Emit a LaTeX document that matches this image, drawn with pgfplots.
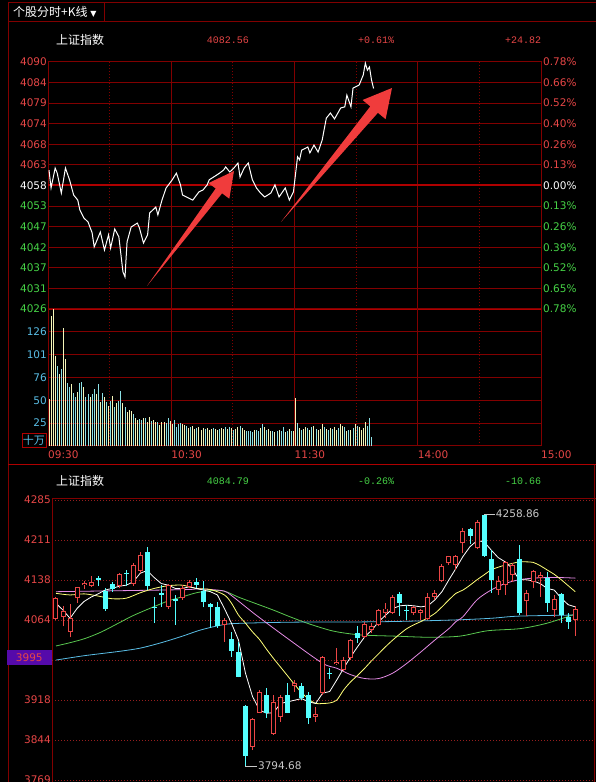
\documentclass[border=0pt]{standalone}
\usepackage{pgfplots}
\pgfplotsset{compat=1.18}
\usepackage{pgfplotstable}
\usepackage{fontspec}
\setmainfont{Liberation Sans}
\setmonofont{Liberation Mono}
\newfontfamily\cjk{Noto Sans CJK SC}
\newfontfamily\dejavu{DejaVu Sans}
\definecolor{gridred}{RGB}{130,0,0}
\definecolor{brightred}{RGB}{175,0,0}
\definecolor{dotred}{RGB}{150,30,30}
\definecolor{labred}{RGB}{230,70,70}
\definecolor{labgreen}{RGB}{70,210,70}
\definecolor{labcyan}{RGB}{90,190,230}
\definecolor{candred}{RGB}{235,70,70}
\definecolor{candcyan}{RGB}{84,255,255}
\definecolor{volyel}{RGB}{245,245,185}
\definecolor{volcyan}{RGB}{140,225,230}
\definecolor{maten}{RGB}{255,255,120}
\definecolor{matwenty}{RGB}{230,140,230}
\definecolor{masixty}{RGB}{90,200,80}
\definecolor{mahund}{RGB}{90,190,230}
\definecolor{arrowred}{RGB}{240,60,60}
\definecolor{boxpurple}{RGB}{85,10,170}
\definecolor{annot}{RGB}{200,200,200}
\newcommand{\tl}{\dejavu\fontsize{10.5}{13}\selectfont}
\newcommand{\R}[1]{\textcolor{labred}{#1}}
\newcommand{\G}[1]{\textcolor{labgreen}{#1}}
\newcommand{\W}[1]{\textcolor{white}{#1}}

\pgfplotstableread{
m p
0 4061.7
1 4057.1
3 4062.2
4 4060.9
6 4055.8
8 4062.2
10 4059.2
12 4055.3
14 4054.0
15 4051.5
17 4049.4
19 4048.4
21 4045.6
22 4042.0
25 4045.8
27 4041.2
29 4045.1
30 4041.7
32 4046.6
34 4044.6
36 4035.6
37 4034.3
38 4043.3
40 4047.1
43 4048.1
44 4046.9
46 4043.0
48 4045.1
49 4050.7
52 4052.2
53 4050.2
55 4054.0
57 4057.1
60 4059.2
62 4060.9
64 4057.9
65 4055.3
68 4054.5
70 4054.0
73 4056.1
75 4056.6
77 4057.9
78 4059.2
81 4060.2
83 4060.9
85 4061.7
86 4062.5
88 4061.2
90 4062.2
92 4063.5
93 4059.9
95 4062.2
97 4063.5
99 4059.2
101 4057.1
103 4055.8
105 4054.8
108 4055.8
110 4057.9
112 4054.8
115 4057.1
117 4054.0
119 4056.1
121 4065.1
122 4064.3
123 4066.8
126 4067.6
127 4066.1
129 4068.1
131 4066.3
133 4069.4
135 4075.0
137 4076.3
139 4074.8
142 4077.6
144 4077.9
145 4080.9
147 4077.9
148 4082.7
151 4083.5
153 4086.1
154 4089.1
155 4087.3
156 4088.1
157 4084.8
158 4082.6
}\price

\pgfplotstableread{
m v
0 52
1 143
2 151
3 99
5 79
7 130
8 96
11 68
14 60
17 65
20 54
23 57
25 49
27 54
29 44
31 55
33 47
36 48
38 37
39 40
40 39
42 31
43 29
46 31
48 27
49 32
51 29
52 27
54 23
55 26
56 27
59 28
60 24
65 24
66 23
68 20
70 22
71 19
73 21
74 18
75 20
77 20
78 18
79 19
81 19
82 18
84 20
85 19
87 19
89 20
91 19
92 21
94 20
95 18
100 18
103 20
105 21
107 19
108 17
110 15
112 18
115 15
117 19
119 17
120 53
122 20
124 19
125 21
127 18
129 22
131 18
132 19
133 24
135 19
137 20
139 21
140 18
142 24
143 22
145 17
147 18
149 24
151 21
152 18
153 20
154 27
}\volY

\pgfplotstableread{
m v
4 88
6 85
9 70
10 65
12 59
13 54
15 70
16 71
18 54
19 57
21 57
22 63
24 68
26 58
28 49
30 50
32 43
34 50
35 61
37 43
41 35
44 30
45 29
47 31
50 28
53 26
57 25
58 31
61 29
62 21
63 24
64 25
67 22
69 21
72 20
76 19
80 20
83 19
86 21
88 21
90 18
93 22
96 16
97 17
98 16
99 15
101 18
102 17
104 24
106 18
109 16
111 16
113 17
114 21
116 17
118 16
121 25
123 18
126 20
128 21
130 19
134 21
136 18
138 19
141 20
144 21
146 18
148 20
150 22
155 22
156 31
157 10
}\volC

% red (rising) candles
\pgfplotstableread{
i o h l c
0 4066 4106 4063 4104
1 4070 4090 4052 4080
2 4042 4094 4032 4067
3 4104 4125 4096 4124
4 4129 4136 4121 4132
5 4127 4144 4125 4134
9 4126 4150 4122 4148
11 4131 4168 4127 4165
12 4155 4190 4150 4184
16 4088 4130 4085 4128
18 4104 4128 4101 4122
19 4125 4138 4122 4134
24 4055 4067 4024 4064
28 3830 3883 3824 3881
29 3893 3935 3892 3932
31 3854 3926 3852 3913
32 3886 3926 3876 3922
34 3942 3954 3932 3948
37 3885 3904 3876 3891
38 3929 3998 3926 3996
40 3983 4012 3980 3986
41 3972 3996 3969 3990
42 3993 4028 3991 4027
44 4032 4061 4030 4057
45 4045 4059 4040 4053
46 4055 4085 4052 4083
47 4076 4095 4067 4085
48 4077 4110 4075 4107
51 4076 4090 4073 4087
52 4076 4085 4064 4082
53 4065 4113 4064 4107
54 4107 4120 4101 4114
55 4136 4167 4133 4163
56 4168 4182 4165 4181
57 4165 4184 4156 4182
58 4205 4233 4188 4228
60 4196 4248 4194 4245
63 4120 4145 4110 4135
64 4128 4173 4110 4171
65 4147 4168 4134 4165
67 4098 4120 4071 4113
68 4133 4156 4122 4154
69 4141 4153 4107 4147
71 4083 4110 4070 4102
74 4064 4090 4034 4084
}\candR

% cyan (falling) candles
\pgfplotstableread{
i o h l c
6 4141 4144 4127 4138
7 4118 4122 4081 4084
8 4131 4134 4116 4121
10 4151 4156 4127 4149
13 4190 4198 4119 4127
14 4088 4107 4058 4086
15 4113 4128 4088 4110
17 4102 4110 4055 4099
20 4134 4142 4122 4128
21 4117 4135 4087 4097
22 4093 4095 4050 4087
23 4087 4097 4050 4052
25 4029 4042 3996 4007
26 4004 4024 3958 3959
27 3905 3907 3794.68 3813
30 3926 3938 3883 3893
33 3926 3948 3892 3893
35 3942 3947 3916 3921
36 3926 3932 3873 3883
39 3967 3975 3955 3964
43 4039 4052 4021 4030
49 4111 4116 4071 4096
50 4083 4092 4063 4081
59 4231 4233 4204 4219
61 4257 4258.86 4180 4181
62 4176 4193 4114 4138
66 4176 4202 4073 4077
70 4141 4153 4079 4096
72 4111 4113 4058 4073
73 4069 4076 4048 4061
}\candC

\begin{document}
\begin{tikzpicture}[x=1pt,y=1pt]
\fill[black] (0,0) rectangle (596,782);

% window frame (pixel coordinates, y downwards)
\begin{scope}[shift={(0,782)},yscale=-1]
  \draw[gridred, line width=1pt] (8,3) -- (596,3);
  \draw[gridred, line width=1pt] (8,22) -- (596,22);
  \draw[gridred, line width=1pt] (8,3) -- (8,782);
  \draw[gridred, line width=1pt] (104,3) -- (104,22);
  \draw[brightred, line width=1pt] (8,465) -- (596,465);
  \draw[gridred, line width=1pt] (52,499) -- (596,499);
  \draw[gridred, line width=1pt] (594,465) -- (594,782);
\end{scope}

% header texts
\node[anchor=west, text=white, inner sep=0pt, font=\cjk\fontsize{12}{14}\selectfont] at (13,770) {个股分时+K线 {\dejavu\fontsize{8}{10}\selectfont ▼}};
\node[anchor=west, text=white, inner sep=0pt, font=\cjk\fontsize{12}{14}\selectfont] at (56,742) {上证指数};
\node[text=labred, inner sep=0pt, font=\ttfamily\fontsize{10}{12}\selectfont] at (228,742) {4082.56};
\node[text=labred, inner sep=0pt, font=\ttfamily\fontsize{10}{12}\selectfont] at (376,742) {+0.61\%};
\node[text=labred, inner sep=0pt, font=\ttfamily\fontsize{10}{12}\selectfont] at (523,742) {+24.82};
\node[anchor=west, text=white, inner sep=0pt, font=\cjk\fontsize{12}{14}\selectfont] at (56,301) {上证指数};
\node[text=labgreen, inner sep=0pt, font=\ttfamily\fontsize{10}{12}\selectfont] at (228,301) {4084.79};
\node[text=labgreen, inner sep=0pt, font=\ttfamily\fontsize{10}{12}\selectfont] at (376,301) {-0.26\%};
\node[text=labgreen, inner sep=0pt, font=\ttfamily\fontsize{10}{12}\selectfont] at (523,301) {-10.66};

% ---------- intraday price ----------
\begin{axis}[
  at={(48pt,473pt)}, anchor=south west, scale only axis, width=493pt, height=247pt,
  xmin=0, xmax=240, ymin=4026.09, ymax=4089.39,
  axis line style={draw=gridred, line width=1pt},
  xtick={60,120,180}, xticklabels={},
  minor xtick={30,90,150,210},
  xmajorgrids, xminorgrids, ymajorgrids,
  major grid style={draw=gridred, line width=1pt},
  minor grid style={draw=gridred, line width=1pt, dash pattern=on 1pt off 2pt},
  ytick={4026.09,4031.37,4036.64,4041.92,4047.19,4052.47,4057.74,4063.02,4068.29,4073.57,4078.84,4084.12,4089.39},
  yticklabels={\G{4026},\G{4031},\G{4037},\G{4042},\G{4047},\G{4053},\W{4058},\R{4063},\R{4068},\R{4074},\R{4079},\R{4084},\R{4090}},
  tick style={draw=none},
  yticklabel style={font=\tl, anchor=east, inner sep=1pt},
  extra y ticks={4026.09,4057.74}, extra y tick labels={},
  extra y tick style={grid=major, major grid style={draw=brightred, line width=2pt}},
]
\addplot[white, line width=1pt, mark=none, xshift=1pt] table[x=m,y=p] {\price};
\end{axis}

% percent labels on the right
\begin{axis}[
  at={(48pt,473pt)}, anchor=south west, scale only axis, width=493pt, height=247pt,
  xmin=0, xmax=240, ymin=4026.09, ymax=4089.39,
  axis x line=none, axis y line*=right, y axis line style={draw=none},
  ytick={4026.09,4031.37,4036.64,4041.92,4047.19,4052.47,4057.74,4063.02,4068.29,4073.57,4078.84,4084.12,4089.39},
  yticklabels={\G{0.78\%},\G{0.65\%},\G{0.52\%},\G{0.39\%},\G{0.26\%},\G{0.13\%},\W{0.00\%},\R{0.13\%},\R{0.26\%},\R{0.40\%},\R{0.52\%},\R{0.66\%},\R{0.78\%}},
  tick style={draw=none},
  yticklabel style={font=\tl, anchor=west, inner sep=1pt, xshift=1pt},
]
\end{axis}

% ---------- volume ----------
\begin{axis}[
  at={(48pt,336pt)}, anchor=south west, scale only axis, width=493pt, height=137pt,
  xmin=0, xmax=240, ymin=0, ymax=151.2,
  axis line style={draw=gridred, line width=1pt},
  xtick={0,60,120,180,240}, xticklabels={09:30,10:30,11:30,14:00,15:00},
  xticklabel style={font=\tl, text=labred, anchor=north west, inner sep=0pt, yshift=-5pt},
  minor xtick={30,90,150,210},
  xmajorgrids, xminorgrids, ymajorgrids,
  major grid style={draw=gridred, line width=1pt},
  minor grid style={draw=gridred, line width=1pt, dash pattern=on 1pt off 2pt},
  ytick={25.2,50.4,75.6,100.8,126}, yticklabels={25,50,76,101,126},
  yticklabel style={font=\tl, text=labcyan, anchor=east, inner sep=1pt},
  tick style={draw=none},
]
\addplot[ycomb, volyel, line width=1pt, mark=none, xshift=1pt] table[x=m,y=v] {\volY};
\addplot[ycomb, volcyan, line width=1pt, mark=none, xshift=1pt] table[x=m,y=v] {\volC};
\end{axis}
\node[draw=brightred, text=labcyan, inner sep=0.5pt, minimum width=24pt, minimum height=14pt, font=\cjk\fontsize{11}{12}\selectfont] at (34,342) {十万};

% ---------- daily candles ----------
\begin{axis}[
  at={(52pt,0pt)}, anchor=south west, scale only axis, width=542pt, height=283pt,
  xmin=-0.57, xmax=76.67, ymin=3765.3, ymax=4286.8,
  axis line style={draw=gridred, line width=1pt},
  xtick=\empty,
  ytick={4285,4211.3,4137.6,4063.9,3916.4,3842.7,3769},
  yticklabels={4285,4211,4138,4064,3918,3844,3769},
  yticklabel style={font=\tl, text=labred, anchor=east, inner sep=1pt},
  tick style={draw=none},
  ymajorgrids, major grid style={draw=dotred, line width=0.8pt, dash pattern=on 1pt off 2pt},
  extra y ticks={3990.1}, extra y tick labels={},
  extra y tick style={grid=major},
]
% moving averages
\addplot[masixty, line width=0.8pt, mark=none, smooth] coordinates {
(0,4016) (2,4022) (4.2,4030) (6.5,4042) (8.9,4058) (11,4072) (13.7,4087) (16,4099) (18.4,4108) (20,4114) (22,4118) (24,4117) (26,4106) (28.5,4094) (31,4082) (33.3,4070) (36,4057) (39,4045) (41,4040) (43.7,4036) (48.5,4034) (53.2,4032) (57.5,4034) (61.5,4044) (66.2,4048) (70,4058) (73.6,4073) (74,4074)};
\addplot[mahund, line width=0.8pt, mark=none, smooth] coordinates {
(0,3990) (4,3998) (9,4006) (12,4012) (15,4022) (18,4034) (20.5,4045) (23,4053) (25,4057) (30,4059) (35,4060) (40,4060) (48,4061) (57,4064) (62,4067) (66,4071) (74,4073)};
\addplot[matwenty, line width=0.8pt, mark=none, smooth] coordinates {
(0,4116) (5,4117) (10,4118) (15,4119) (19,4120) (20,4121) (22,4120) (24,4117) (25.2,4107) (28.5,4073) (33.3,4027) (38,3984) (40,3975) (42,3963) (44,3956) (46,3956) (48,3966) (50,3984) (52,4005) (54,4027) (56,4048) (57,4061) (58,4070) (60,4101) (62,4119) (64,4131) (66,4138) (68,4141) (70,4142) (72,4142) (74,4141)};
\addplot[maten, line width=0.8pt, mark=none, smooth] coordinates {
(0,4113) (2,4110) (4,4112) (6,4108) (8,4103) (10,4104) (12,4114) (14,4122) (16,4127) (18,4128) (20,4122) (22,4120) (24,4110) (25,4095) (26,4073) (27,4058) (28,4042) (29,4028) (30,4010) (31,3993) (32,3977) (33,3961) (34,3945) (35,3930) (36,3918) (37,3910) (38,3910) (39,3911) (40,3916) (41,3935) (42,3950) (43,3962) (44,3975) (45,3989) (46,4002) (47,4015) (48,4027) (49,4038) (50,4048) (51,4055) (52,4061) (53,4068) (54,4076) (55,4088) (56,4101) (57,4113) (58,4119) (59,4128) (60,4138) (61,4147) (62,4156) (63,4161) (64,4165) (65,4168) (66,4171) (67,4171) (68,4170) (69,4164) (70,4156) (71,4148) (72,4138) (73,4127) (74,4116)};
\addplot[white, line width=0.8pt, mark=none] coordinates {
(0,4094.5) (1,4082) (2,4067) (3,4085) (4,4098) (5,4106) (6,4112) (7,4119) (8,4122) (9,4126) (10,4128) (11,4134) (12,4150) (13,4155) (14,4142) (15,4131) (16,4128) (17,4122) (18,4122) (19,4125) (20,4122) (21,4119) (22,4116) (23,4110) (24,4085) (25,4058) (26,4027) (27,3966) (28,3923) (29,3898) (30,3892) (31,3893) (32,3910) (33,3913) (34,3916) (35,3919) (36,3913) (37,3910) (38,3929) (39,3932) (40,3953) (41,3975) (42,3996) (43,4015) (44,4033) (45,4045) (46,4061) (47,4073) (48,4085) (49,4090) (50,4091) (51,4090) (52,4088) (53,4090) (54,4101) (55,4116) (56,4138) (57,4159) (58,4181) (59,4199) (60,4210) (61,4208) (62,4193) (63,4179) (64,4171) (65,4159) (66,4138) (67,4138) (68,4136) (69,4131) (70,4122) (71,4119) (72,4104) (73,4092) (74,4088)};
% cyan candles: wick then filled body
\addplot[draw=none, mark=none, error bars/.cd, y dir=plus, y explicit, error mark=none,
  error bar style={draw=candcyan, line width=1pt}]
  table[x=i, y=l, y error expr=\thisrow{h}-\thisrow{l}] {\candC};
\addplot[draw=none, mark=none, error bars/.cd, y dir=plus, y explicit, error mark=none,
  error bar style={draw=candcyan, line width=5pt}]
  table[x=i, y=c, y error expr=\thisrow{o}-\thisrow{c}] {\candC};
% red candles: wick, outline body, hollow inside
\addplot[draw=none, mark=none, error bars/.cd, y dir=plus, y explicit, error mark=none,
  error bar style={draw=candred, line width=1pt}]
  table[x=i, y=l, y error expr=\thisrow{h}-\thisrow{l}] {\candR};
\addplot[draw=none, mark=none, error bars/.cd, y dir=plus, y explicit, error mark=none,
  error bar style={draw=candred, line width=5pt}]
  table[x=i, y=o, y error expr=\thisrow{c}-\thisrow{o}] {\candR};
\addplot[draw=none, mark=none, error bars/.cd, y dir=plus, y explicit, error mark=none,
  error bar style={draw=black, line width=3pt}]
  table[x=i, y expr=\thisrow{o}+1.8, y error expr=\thisrow{c}-\thisrow{o}-3.6] {\candR};
% extreme labels
\draw[annot, line width=0.8pt] (axis cs:61,4258.86) -- (axis cs:62.6,4258.86);
\node[anchor=west, text=annot, inner sep=0.5pt, font=\tl] at (axis cs:62.6,4258.86) {4258.86};
\draw[annot, line width=0.8pt] (axis cs:27,3794.68) -- (axis cs:28.7,3794.68);
\node[anchor=west, text=annot, inner sep=0.5pt, font=\tl] at (axis cs:28.7,3794.68) {3794.68};
\end{axis}
\node[fill=boxpurple, text=labred, anchor=east, inner sep=0pt, minimum width=45pt, minimum height=15pt, font=\tl] at (52,124) {3995};

% red annotation arrows (pixel coordinates, y downwards)
\begin{scope}[shift={(0,782)},yscale=-1]
  \fill[arrowred] (147,286) -- (222.1,193.3) -- (229.3,198.7) -- (234,171) -- (208.5,183.1) -- (215.7,188.5) -- cycle;
  \fill[arrowred] (281,222) -- (377.9,112.8) -- (385.6,119.2) -- (392,88) -- (362.6,100.0) -- (370.3,106.4) -- cycle;
\end{scope}
\pgfresetboundingbox
\useasboundingbox (0,0) rectangle (596,782);
\end{tikzpicture}
\end{document}
